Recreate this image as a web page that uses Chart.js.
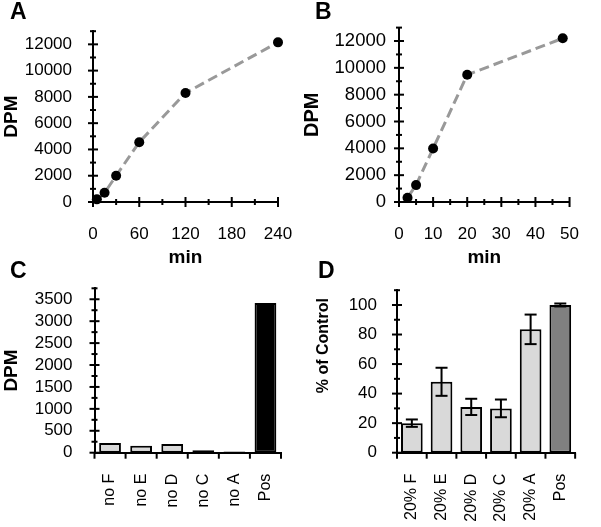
<!DOCTYPE html>
<html><head><meta charset="utf-8">
<script src="https://cdn.jsdelivr.net/npm/chart.js@4.4.0/dist/chart.umd.min.js"></script>
<style>
html,body{margin:0;padding:0;background:#fff;}
#wrap{position:relative;width:601px;height:527px;overflow:hidden;font-family:"Liberation Sans",Arial,sans-serif;background:#fff;}
canvas{position:absolute;left:0;top:0;}
.lbl{position:absolute;font-weight:bold;font-size:23px;line-height:23px;color:#000;}
</style></head><body>
<div id="wrap">
<canvas id="cA" width="601" height="527"></canvas>
<canvas id="cB" width="601" height="527"></canvas>
<canvas id="cC" width="601" height="527"></canvas>
<canvas id="cD" width="601" height="527"></canvas>
<div class="lbl" style="left:10px;top:0px">A</div>
<div class="lbl" style="left:315px;top:0px">B</div>
<div class="lbl" style="left:10px;top:259px">C</div>
<div class="lbl" style="left:318px;top:259px">D</div>
</div>
<script>
// ---- data ----
const timeA = [5, 15, 30, 60, 120, 240];
const dpmA = [200, 700, 2000, 4550, 8300, 12150];
const timeB = [2.5, 5, 10, 20, 48];
const dpmB = [320, 1260, 3990, 9480, 12200];
const catC = ['no F', 'no E', 'no D', 'no C', 'no A', 'Pos'];
const dpmC = [220, 160, 200, 55, 30, 3415];
const catD = ['20% F', '20% E', '20% D', '20% C', '20% A', 'Pos'];
const pctD = [20, 48, 31, 30, 83.5, 100];
const errD = [2.5, 9.5, 5.5, 6, 10, 1];
const yTicksAB = [0, 2000, 4000, 6000, 8000, 10000, 12000];
const xTicksA = [0, 60, 120, 180, 240];
const xTicksB = [0, 10, 20, 30, 40, 50];
const yTicksC = [0, 500, 1000, 1500, 2000, 2500, 3000, 3500];
const yTicksD = [0, 20, 40, 60, 80, 100];

Chart.defaults.font.family = '"Liberation Sans", Arial, sans-serif';
Chart.defaults.color = '#000';

function seg(ctx, x1, y1, x2, y2) { ctx.beginPath(); ctx.moveTo(x1, y1); ctx.lineTo(x2, y2); ctx.stroke(); }

const excelAxes = {
  id: 'excelAxes',
  beforeDatasetsDraw(chart) {
    const ctx = chart.ctx, a = chart.chartArea;
    ctx.save(); ctx.strokeStyle = '#000'; ctx.lineWidth = 2; ctx.lineCap = 'butt';
    for (const id of ['x', 'y']) {
      const s = chart.scales[id];
      if (s.type === 'category') {
        const n = s.getLabels().length;
        for (let i = 0; i <= n; i++) { const px = s.getPixelForValue(i - 0.5); seg(ctx, px, a.bottom, px, a.bottom + 6); }
        continue;
      }
      const maj = s.ticks.map(t => t.value);
      const step = maj[1] - maj[0];
      const minors = [];
      for (let v = maj[0] + step / 2; v <= s.max + 1e-9; v += step) minors.push(v);
      const horiz = s.isHorizontal();
      maj.forEach(v => { const p = s.getPixelForValue(v);
        if (horiz) seg(ctx, p, a.bottom - 5, p, a.bottom + 5); else seg(ctx, a.left - 5, p, a.left + 5, p); });
      minors.forEach(v => { const p = s.getPixelForValue(v);
        if (horiz) seg(ctx, p, a.bottom - 3, p, a.bottom + 3); else seg(ctx, a.left - 3, p, a.left + 3, p); });
    }
    ctx.restore();
  }
};

const errorBars = {
  id: 'errorBars',
  afterDatasetsDraw(chart, args, opts) {
    if (!opts || !opts.err) return;
    const ctx = chart.ctx, xs = chart.scales.x, ys = chart.scales.y;
    const vals = chart.data.datasets[0].data;
    ctx.save(); ctx.strokeStyle = '#000'; ctx.lineWidth = 2;
    opts.err.forEach((e, i) => {
      const x = xs.getPixelForValue(i);
      const t = ys.getPixelForValue(vals[i] + e), b = ys.getPixelForValue(vals[i] - e);
      seg(ctx, x, t, x, b); seg(ctx, x - 6, t, x + 6, t); seg(ctx, x - 6, b, x + 6, b);
    });
    ctx.restore();
  }
};

const sideTitle = {
  id: 'sideTitle',
  afterDraw(chart, args, opts) {
    if (!opts || !opts.text) return;
    const ctx = chart.ctx, a = chart.chartArea;
    ctx.save();
    ctx.translate(a.left + opts.dx, a.top + opts.dy);
    ctx.rotate(-Math.PI / 2);
    ctx.font = 'bold ' + opts.size + 'px "Liberation Sans", Arial, sans-serif';
    ctx.fillStyle = '#000'; ctx.textAlign = 'center'; ctx.textBaseline = 'middle';
    ctx.fillText(opts.text, 0, 0);
    ctx.restore();
  }
};

function fixedTicks(arr) { return s => { s.ticks = arr.map(v => ({ value: v })); }; }

function linScale(min, max, ticks, fit, pad, title, tsize, fsize) {
  return {
    type: 'linear', min: min, max: max,
    afterBuildTicks: fixedTicks(ticks),
    afterFit: fit,
    grid: { display: false, drawTicks: false },
    border: { display: true, color: '#000', width: 2 },
    ticks: { padding: pad, maxRotation: 0, minRotation: 0, autoSkip: false, color: '#000', font: { size: fsize || 17 },
      callback: v => String(v) },
    title: title ? { display: true, text: title, color: '#000', font: { size: tsize || 19, weight: 'bold' }, padding: 0 } : { display: false }
  };
}

function lineChart(id, xs, ys, xTicks, xmax, padding, yW, yPad, yFont, yTitleSize) {
  return new Chart(document.getElementById(id), {
    type: 'scatter',
    data: { datasets: [{
      data: xs.map((t, i) => ({ x: t, y: ys[i] })),
      showLine: true, borderColor: '#999999', borderWidth: 3, borderDash: [10, 5],
      pointRadius: 5, pointHoverRadius: 5, pointBackgroundColor: '#000', pointBorderColor: '#000', pointBorderWidth: 0,
      clip: false, tension: 0
    }] },
    options: {
      responsive: false, animation: false, events: [],
      layout: { padding: padding },
      plugins: { legend: { display: false }, tooltip: { enabled: false } },
      scales: {
        x: linScale(0, xmax, xTicks, s => { s.height = 67; }, 22, 'min'),
        y: linScale(0, 13000, yTicksAB, s => { s.width = yW; }, yPad, 'DPM', yTitleSize, yFont)
      }
    },
    plugins: [excelAxes]
  });
}

lineChart('cA', timeA, dpmA, xTicksA, 240, { left: 0, top: 27.6, right: 323, bottom: 258 }, 93, 21, 17, 19);
lineChart('cB', timeB, dpmB, xTicksB, 50, { left: 300, top: 27.6, right: 14, bottom: 258 }, 99, 13, 18.5, 20);

function barChart(id, cats, vals, colors, yTicks, ymax, padding, yW, ypad, barPct, ytitle, extra) {
  const yScale = linScale(0, ymax, yTicks, s => { s.width = yW; }, ypad, ytitle);
  return new Chart(document.getElementById(id), {
    type: 'bar',
    data: { labels: cats, datasets: [{ data: vals, backgroundColor: colors, borderColor: '#000', borderWidth: 2, borderSkipped: false, barPercentage: barPct, categoryPercentage: 1 }] },
    options: {
      responsive: false, animation: false, events: [],
      layout: { padding: padding },
      plugins: Object.assign({ legend: { display: false }, tooltip: { enabled: false } }, extra || {}),
      scales: {
        x: {
          type: 'category', offset: true,
          afterFit: s => { s.height = 74; },
          grid: { display: false, drawTicks: false },
          border: { display: true, color: '#000', width: 2 },
          ticks: { padding: 21, minRotation: 90, maxRotation: 90, autoSkip: false, color: '#000', font: { size: 16 } }
        },
        y: yScale
      }
    },
    plugins: [excelAxes, errorBars, sideTitle]
  });
}

barChart('cC', catC, dpmC, ['#d9d9d9', '#d9d9d9', '#d9d9d9', '#d9d9d9', '#d9d9d9', '#000000'],
  yTicksC, 3750, { left: 0, top: 288.3, right: 320, bottom: 0.3 }, 94.5, 22, 0.7, 'DPM');
barChart('cD', catD, pctD, ['#d9d9d9', '#d9d9d9', '#d9d9d9', '#d9d9d9', '#d9d9d9', '#808080'],
  yTicksD, 110, { left: 317, top: 290.2, right: 6, bottom: 0.3 }, 80, 20, 0.73, null,
  { errorBars: { err: errD }, sideTitle: { text: '% of Control', size: 16, dx: -73, dy: 55.5 } });
</script>
</body></html>
